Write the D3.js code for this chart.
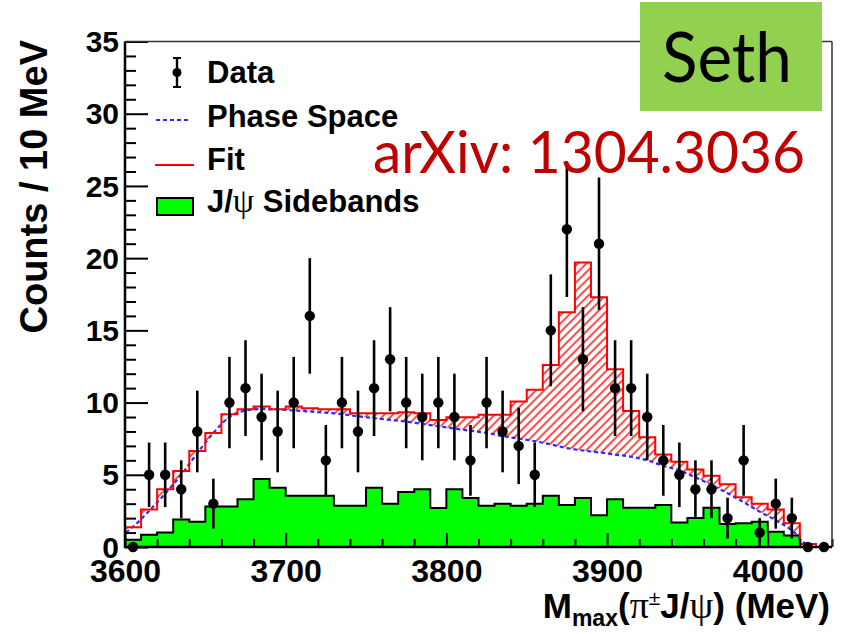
<!DOCTYPE html>
<html>
<head>
<meta charset="utf-8">
<script src="https://cdn.jsdelivr.net/npm/d3@7"></script>
<style>
  html, body { margin: 0; padding: 0; background: #fff; overflow: hidden; }
  svg { display: block; }
</style>
</head>
<body>
<svg id="chart" width="843" height="634"></svg>
<script>
// M_max(pi J/psi) spectrum, 10 MeV bins
const massBins = [3605,3615,3625,3635,3645,3655,3665,3675,3685,3695,
                  3705,3715,3725,3735,3745,3755,3765,3775,3785,3795,
                  3805,3815,3825,3835,3845,3855,3865,3875,3885,3895,
                  3905,3915,3925,3935,3945,3955,3965,3975,3985,3995,
                  4005,4015,4025,4035];
const halfBin = 5;

const dataCounts = [0,5,5,4,8,3,10,11,9,8,
                    10,16,6,10,8,11,13,10,9,10,
                    9,6,10,8,7,5,15,22,13,21,
                    11,11,9,6,5,4,4,2,6,1,
                    3,2,0,0];

const fitCounts = [1.36,2.6,4.0,5.27,6.65,7.9,9.2,9.54,9.72,9.54,
                   9.72,9.6,9.54,9.54,9.26,9.26,9.26,9.33,9.26,8.8,
                   8.99,8.99,9.15,9.15,10.07,10.88,12.6,16.25,19.7,17.3,
                   12.3,9.42,7.6,6.4,5.9,5.37,4.93,4.35,3.44,3.0,
                   2.6,1.65,0.2,0];

const sidebandCounts = [0.5,0.85,1.0,1.9,1.75,2.8,2.8,3.3,4.7,4.1,
                        3.55,3.55,3.55,2.86,2.86,4.1,3.0,3.8,4.0,2.7,
                        4.0,3.4,2.86,3.0,2.86,3.0,3.55,2.9,3.4,2.2,
                        3.3,2.72,2.72,2.9,1.7,2.0,2.72,1.6,1.65,1.75,
                        1.05,0.8,0,0];

// phase-space shape sampled along the mass axis
const psMass = [3600.5,3605,3615,3625,3635,3645,3655,3665,3675,3685,3695,
                3705,3715,3725,3735,3745,3755,3765,3775,3785,3795,
                3805,3815,3825,3835,3845,3855,3865,3875,3885,3895,
                3905,3915,3925,3935,3945,3955,3965,3975,3985,3995,
                4005,4015,4025,4028];
const psCounts = [1.0,1.4,2.5,3.7,5.0,6.5,7.9,9.0,9.45,9.55,9.52,
                  9.45,9.38,9.3,9.2,9.05,8.92,8.8,8.68,8.52,8.36,
                  8.2,8.05,7.9,7.68,7.5,7.33,7.1,6.85,6.68,6.55,
                  6.4,6.25,6.0,5.62,5.3,4.82,4.3,3.72,3.1,2.45,
                  1.85,1.15,0.12,0];

const xDomain = [3600, 4040];
const yDomain = [0, 35];
const xMajorTicks = [3600,3700,3800,3900,4000];
const xMinorTicks = [3620,3640,3660,3680,3720,3740,3760,3780,3820,3840,3860,3880,3920,3940,3960,3980,4020,4040];
const yMajorTicks = [0,5,10,15,20,25,30,35];
const yMinorTicks = [1,2,3,4,6,7,8,9,11,12,13,14,16,17,18,19,21,22,23,24,26,27,28,29,31,32,33,34];

const legendItems = ["Data", "Phase Space", "Fit", "J/ψ Sidebands"];

const svg = d3.select("#chart");
const plot = {left: 125, right: 832, top: 41.5, bottom: 547};

const x = d3.scaleLinear().domain(xDomain).range([plot.left, plot.right]);
const y = d3.scaleLinear().domain(yDomain).range([plot.bottom, plot.top]);

const defs = svg.append("defs");
const hatch = defs.append("pattern")
  .attr("id", "redHatch")
  .attr("patternUnits", "userSpaceOnUse")
  .attr("width", 6).attr("height", 6)
  .attr("patternTransform", "rotate(45)");
hatch.append("line")
  .attr("x1", 1).attr("y1", 0).attr("x2", 1).attr("y2", 6)
  .attr("stroke", "#ff2020").attr("stroke-width", 1.6);

// region above the phase-space curve, used to keep the hatch between curve and fit
defs.append("clipPath").attr("id", "abovePS")
  .append("path")
  .attr("d", d3.area()
    .x(d => x(d[0]))
    .y0(plot.top)
    .y1(d => y(d[1]))
    .curve(d3.curveMonotoneX)(psMass.map((m, i) => [m, psCounts[i]])));

defs.append("clipPath").attr("id", "plotArea")
  .append("rect")
  .attr("x", plot.left).attr("y", plot.top)
  .attr("width", plot.right - plot.left).attr("height", plot.bottom - plot.top);

const stepPoints = vals => massBins.map((c, i) => [c - halfBin, vals[i]])
  .concat([[massBins[massBins.length - 1] + halfBin, vals[vals.length - 1]]]);

const stepArea = d3.area()
  .x(d => x(d[0])).y0(y(0)).y1(d => y(d[1]))
  .curve(d3.curveStepAfter);
const stepLine = d3.line()
  .x(d => x(d[0])).y(d => y(d[1]))
  .curve(d3.curveStepAfter);

const g = svg.append("g").attr("clip-path", "url(#plotArea)");

// hatched signal component of the fit
g.append("path")
  .attr("d", stepArea(stepPoints(fitCounts)))
  .attr("fill", "url(#redHatch)")
  .attr("clip-path", "url(#abovePS)");

// sideband histogram
g.append("path")
  .attr("d", stepArea(stepPoints(sidebandCounts)))
  .attr("fill", "#00ff00");
g.append("path")
  .attr("d", stepLine(stepPoints(sidebandCounts)))
  .attr("fill", "none").attr("stroke", "#000").attr("stroke-width", 2);

// phase space curve
g.append("path")
  .attr("d", d3.line()
    .x(d => x(d[0])).y(d => y(d[1]))
    .curve(d3.curveMonotoneX)(psMass.map((m, i) => [m, psCounts[i]])))
  .attr("fill", "none").attr("stroke", "#2a2aff")
  .attr("stroke-width", 2.2).attr("stroke-dasharray", "4,3");

// fit histogram outline
g.append("path")
  .attr("d", stepLine(stepPoints(fitCounts)))
  .attr("fill", "none").attr("stroke", "#ff0000").attr("stroke-width", 2);

// axes
const axisFont = "'Liberation Sans', Arial, Helvetica, sans-serif";

const xMinor = svg.append("g").attr("transform", `translate(0,${plot.bottom})`)
  .call(d3.axisBottom(x).tickValues(xMinorTicks).tickSize(-8).tickFormat(""));
const xMajor = svg.append("g").attr("transform", `translate(0,${plot.bottom})`)
  .call(d3.axisBottom(x).tickValues(xMajorTicks).tickSize(-14).tickFormat(d3.format("d")));
const yMinor = svg.append("g").attr("transform", `translate(${plot.left},0)`)
  .call(d3.axisLeft(y).tickValues(yMinorTicks).tickSize(-11).tickFormat(""));
const yMajor = svg.append("g").attr("transform", `translate(${plot.left},0)`)
  .call(d3.axisLeft(y).tickValues(yMajorTicks).tickSize(-23).tickFormat(d3.format("d")));

[xMinor, xMajor, yMinor, yMajor].forEach(a => {
  a.select(".domain").remove();
  a.selectAll(".tick line").attr("stroke", "#000").attr("stroke-width", 2);
});
xMajor.selectAll(".tick text")
  .attr("y", 35).attr("dy", null)
  .attr("font-family", axisFont).attr("font-weight", "bold")
  .attr("font-size", 32).attr("fill", "#000");
yMajor.selectAll(".tick text")
  .attr("x", -6).attr("dy", "0.34em")
  .attr("font-family", axisFont).attr("font-weight", "bold")
  .attr("font-size", 30).attr("fill", "#000");

// frame
svg.append("line").attr("x1", plot.left).attr("x2", plot.right)
  .attr("y1", plot.top).attr("y2", plot.top)
  .attr("stroke", "#333").attr("stroke-width", 1.5);
svg.append("line").attr("x1", plot.right).attr("x2", plot.right)
  .attr("y1", plot.top).attr("y2", plot.bottom)
  .attr("stroke", "#333").attr("stroke-width", 1.5);
svg.append("line").attr("x1", plot.left).attr("x2", plot.left)
  .attr("y1", plot.top).attr("y2", plot.bottom + 1)
  .attr("stroke", "#000").attr("stroke-width", 2.5);
svg.append("line").attr("x1", plot.left).attr("x2", plot.right)
  .attr("y1", plot.bottom).attr("y2", plot.bottom)
  .attr("stroke", "#000").attr("stroke-width", 2.5);

// data points with Poisson errors
const pts = massBins.map((m, i) => ({m, n: dataCounts[i]}));
const dg = svg.append("g");
dg.selectAll("line.err").data(pts.filter(d => d.n > 0)).join("line")
  .attr("class", "err")
  .attr("x1", d => x(d.m)).attr("x2", d => x(d.m))
  .attr("y1", d => y(d.n - Math.sqrt(d.n))).attr("y2", d => y(d.n + Math.sqrt(d.n)))
  .attr("stroke", "#000").attr("stroke-width", 2.6);
dg.selectAll("circle").data(pts).join("circle")
  .attr("cx", d => x(d.m)).attr("cy", d => y(d.n)).attr("r", 5.2)
  .attr("fill", "#000");

// axis titles
svg.append("text")
  .attr("transform", "translate(47,40) rotate(-90)")
  .attr("text-anchor", "end")
  .attr("font-family", axisFont).attr("font-weight", "bold")
  .attr("font-size", 38).attr("fill", "#000")
  .text("Counts / 10 MeV");

const xt = svg.append("text")
  .attr("x", 830).attr("y", 618)
  .attr("text-anchor", "end")
  .attr("font-family", axisFont).attr("font-weight", "bold")
  .attr("font-size", 35).attr("fill", "#000");
xt.append("tspan").text("M");
xt.append("tspan").attr("font-size", 23).attr("dy", 8).text("max");
xt.append("tspan").attr("dy", -8).text("(");
xt.append("tspan").attr("font-family", "'Liberation Serif', serif").attr("font-weight", "normal")
  .attr("font-size", 38).text("π");
xt.append("tspan").attr("font-size", 21).attr("font-weight", "normal").attr("dy", -13).text("±");
xt.append("tspan").attr("dy", 13).text("J/");
xt.append("tspan").attr("font-family", "'Liberation Serif', serif").attr("font-weight", "normal")
  .attr("font-size", 38).text("ψ");
xt.append("tspan").text(") (MeV)");

// legend
const legend = svg.append("g");
const legendX = 207;
const legendBase = [83, 127, 170, 212];
legend.append("line").attr("x1", 177).attr("x2", 177).attr("y1", 58).attr("y2", 87)
  .attr("stroke", "#000").attr("stroke-width", 2.4);
legend.append("line").attr("x1", 173).attr("x2", 181).attr("y1", 58).attr("y2", 58)
  .attr("stroke", "#000").attr("stroke-width", 2);
legend.append("line").attr("x1", 173).attr("x2", 181).attr("y1", 87).attr("y2", 87)
  .attr("stroke", "#000").attr("stroke-width", 2);
legend.append("circle").attr("cx", 177).attr("cy", 72.5).attr("r", 4.5).attr("fill", "#000");
legend.append("line").attr("x1", 156).attr("x2", 190).attr("y1", 120).attr("y2", 120)
  .attr("stroke", "#2a2aff").attr("stroke-width", 2).attr("stroke-dasharray", "4,3");
legend.append("line").attr("x1", 155).attr("x2", 194).attr("y1", 165).attr("y2", 165)
  .attr("stroke", "#ff0000").attr("stroke-width", 2);
legend.append("rect").attr("x", 157).attr("y", 198).attr("width", 36).attr("height", 17)
  .attr("fill", "#00ff00").attr("stroke", "#000").attr("stroke-width", 2);

legendItems.forEach((label, i) => {
  const t = legend.append("text")
    .attr("x", legendX).attr("y", legendBase[i])
    .attr("font-family", axisFont).attr("font-weight", "bold")
    .attr("font-size", 31).attr("fill", "#000");
  const parts = label.split("ψ");
  if (parts.length > 1) {
    t.append("tspan").text(parts[0]);
    t.append("tspan").attr("font-family", "'Liberation Serif', serif")
      .attr("font-weight", "normal").attr("font-size", 34).text("ψ");
    t.append("tspan").text(parts[1]);
  } else {
    t.text(label);
  }
});

// annotations
svg.append("rect").attr("x", 640).attr("y", 2).attr("width", 182).attr("height", 109)
  .attr("fill", "#92d050");
svg.append("text").attr("x", 662).attr("y", 82)
  .attr("font-family", "Lato, 'Open Sans', sans-serif")
  .attr("font-size", 70).attr("fill", "#000")
  .attr("textLength", 130).attr("lengthAdjust", "spacingAndGlyphs")
  .text("Seth");
svg.append("text").attr("x", 373).attr("y", 173)
  .attr("font-family", "Lato, 'Open Sans', sans-serif")
  .attr("font-size", 58).attr("fill", "#c00000")
  .attr("textLength", 432).attr("lengthAdjust", "spacingAndGlyphs")
  .text("arXiv: 1304.3036");
</script>
</body>
</html>
